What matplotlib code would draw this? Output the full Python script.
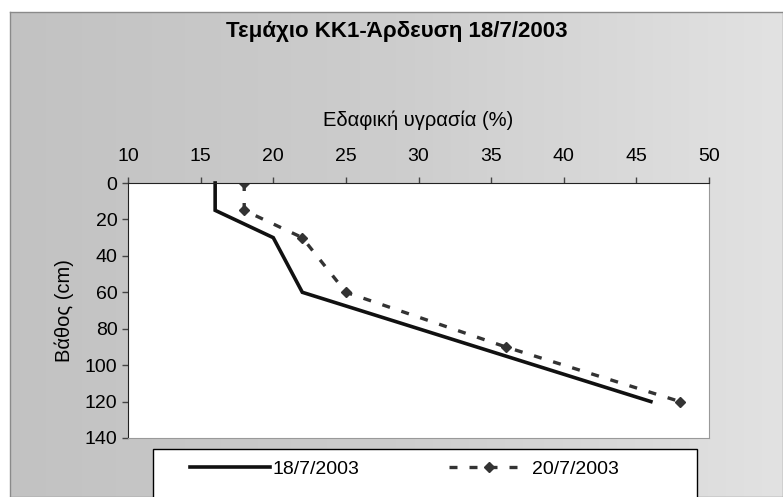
import numpy as np
import matplotlib.pyplot as plt
from matplotlib.colors import LinearSegmentedColormap
from matplotlib.patches import Rectangle

plt.rcParams['font.family'] = ['Liberation Sans', 'DejaVu Sans']

# data
depth_1 = [0, 15, 30, 60, 120]
moist_1 = [16, 16, 20, 22, 46]
depth_2 = [0, 15, 30, 60, 90, 120]
moist_2 = [18, 18, 22, 25, 36, 48]
x_ticks = [10, 15, 20, 25, 30, 35, 40, 45, 50]
y_ticks = [0, 20, 40, 60, 80, 100, 120, 140]

fig = plt.figure(figsize=(7.83, 4.97), dpi=100)
fig.patch.set_facecolor('white')

# grey gradient chart area
bg = fig.add_axes([10 / 783, 0, 1 - 10 / 783, 1 - 12 / 497])
grad = np.linspace(0, 1, 256).reshape(1, -1)
cmap = LinearSegmentedColormap.from_list('bg', ['#c2c2c2', '#cdcdcd', '#e2e2e2'])
bg.imshow(grad, aspect='auto', cmap=cmap, extent=[0, 1, 0, 1])
bg.set_xticks([])
bg.set_yticks([])
for s in bg.spines.values():
    s.set_color('#8a8a8a')
    s.set_linewidth(1)

ax = fig.add_axes([128 / 783, 1 - 438 / 497, (709 - 128) / 783, (438 - 183) / 497])
ax.set_facecolor('white')

ax.plot(moist_1, depth_1, color='#111111', lw=2.6, label='18/7/2003',
        solid_joinstyle='miter', clip_on=False)
ax.plot(moist_2, depth_2, color='#333333', lw=2.4, ls=(0, (2.4, 3.6)),
        marker='D', ms=5, label='20/7/2003')

ax.set_xlim(10, 50)
ax.set_ylim(140, 0)
ax.xaxis.tick_top()
ax.xaxis.set_label_position('top')
ax.set_xticks(x_ticks)
ax.set_yticks(y_ticks)
ax.tick_params(axis='both', labelsize=14, length=4, width=1, color='#444444')
ax.tick_params(axis='x', pad=9)
ax.set_xlabel('Εδαφική υγρασία (%)', fontsize=14.5, labelpad=16)
ax.set_ylabel('Βάθος (cm)', fontsize=14.5, labelpad=8)

ax.spines['left'].set_color('#222222')
ax.spines['top'].set_color('#222222')
ax.spines['right'].set_color('#999999')
ax.spines['bottom'].set_color('#999999')

fig.text(0.5 + 5 / 783, 1 - 31 / 497, 'Τεμάχιο ΚΚ1-Άρδευση 18/7/2003',
         ha='center', va='center', fontsize=16, fontweight='bold',
         family=['Liberation Sans Narrow', 'Liberation Sans', 'DejaVu Sans'])

# legend box running off the bottom edge
fig.patches.append(Rectangle((153 / 783, -0.05), (697 - 153) / 783, 0.05 + (497 - 449) / 497,
                             transform=fig.transFigure, facecolor='white',
                             edgecolor='black', lw=1))
leg = fig.legend(loc='center left', ncol=2, numpoints=1,
                 bbox_to_anchor=(190 / 783, 1 - 469 / 497),
                 fontsize=14, frameon=False, handlelength=4.1,
                 borderpad=0, borderaxespad=0, handletextpad=0.15,
                 columnspacing=4.6)

fig.savefig('out.png', dpi=100)
